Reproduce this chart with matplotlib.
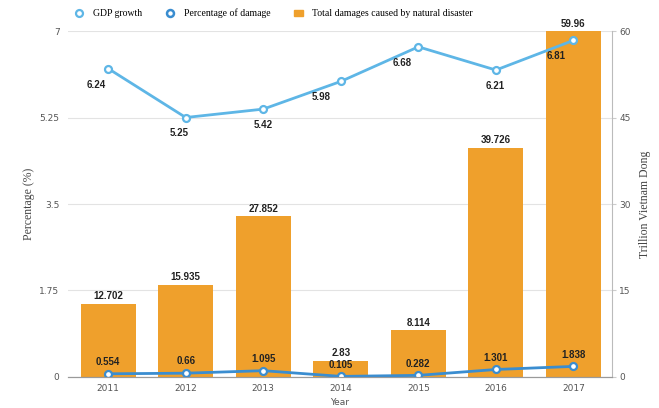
import numpy as np
import matplotlib.pyplot as plt
from matplotlib.lines import Line2D
from matplotlib.patches import Patch

years = ['2011', '2012', '2013', '2014', '2015', '2016', '2017']
gdp_growth = [6.24, 5.25, 5.42, 5.98, 6.68, 6.21, 6.81]
damage_pct = [0.554, 0.66, 1.095, 0.105, 0.282, 1.301, 1.838]
total_damage = [12.702, 15.935, 27.852, 2.83, 8.114, 39.726, 59.96]

orange = '#EFA02C'
light_blue = '#5EB6E6'
dark_blue = '#3A8DD0'
grey = '#9a9a9a'

x = np.arange(len(years))

fig = plt.figure(figsize=(6.59, 4.08), dpi=100)
ax = fig.add_axes([0.103, 0.076, 0.826, 0.848])
ax2 = ax.twinx()

# bars + damage line on the right axis (trillion VND scale)
ax2.set_zorder(1)
ax.set_zorder(2)
ax.patch.set_visible(False)

ax2.bar(x, total_damage, width=0.71, color=orange, zorder=2)
ax2.plot(x, damage_pct, color=dark_blue, lw=2, marker='o', ms=5,
         mfc='white', mec=dark_blue, mew=1.6, zorder=3)
ax2.set_ylim(0, 60)
ax2.set_yticks([0, 15, 30, 45, 60])
ax2.yaxis.grid(True, color='#e3e3e3', lw=0.8)
ax2.set_axisbelow(True)

# gdp line on the left axis
ax.plot(x, gdp_growth, color=light_blue, lw=2, marker='o', ms=5,
        mfc='white', mec=light_blue, mew=1.6, zorder=3)
ax.set_ylim(0, 7)
ax.set_yticks([0, 1.75, 3.5, 5.25, 7])
ax.set_yticklabels(['0', '1.75', '3.5', '5.25', '7'])
ax.set_xlim(-0.52, 6.5)
ax.set_xticks(x)
ax.set_xticklabels(years)

for a in (ax, ax2):
    a.spines['top'].set_visible(False)
    a.spines['left'].set_visible(False)
    a.spines['right'].set_visible(False)
    a.spines['bottom'].set_color(grey)
ax2.spines['right'].set_visible(True)
ax2.spines['right'].set_color('#bbbbbb')

ax.tick_params(axis='y', length=0, labelsize=6.5, labelcolor='#555555', pad=6)
ax.tick_params(axis='x', length=0, labelsize=6.5, labelcolor='#555555', pad=5)
ax2.tick_params(axis='y', length=3, color='#cccccc', labelsize=6.5,
                labelcolor='#555555', pad=2)

ax.set_xlabel('Year', fontsize=6.5, color='#555555', labelpad=4)
ax.set_ylabel('Percentage (%)', family='Liberation Serif', fontsize=8.5,
              color='#444444', labelpad=3)
ax2.set_ylabel('Trillion Vietnam Dong', family='Liberation Serif', fontsize=8.5,
               color='#444444', labelpad=6)

lab = dict(fontsize=7, fontweight='bold', color='#222222',
           family='Liberation Sans', ha='center', va='center')

# data labels
gdp_dx = [-12, -7, 0, -20, -16, -1, -17]
for i, v in enumerate(gdp_growth):
    ax.annotate(f'{v:g}', (x[i], v), xytext=(gdp_dx[i] * 0.72, -11.5),
                textcoords='offset points', zorder=5, **lab)
for i, v in enumerate(total_damage):
    ax2.annotate(f'{v:g}', (x[i], v), xytext=(0, 5.5),
                 textcoords='offset points', zorder=5, **lab)
for i, v in enumerate(damage_pct):
    ax2.annotate(f'{v:g}', (x[i], v), xytext=(0, 8.5),
                 textcoords='offset points', zorder=5, **lab)

handles = [
    Line2D([], [], ls='none', marker='o', ms=5, mfc='white', mec=light_blue, mew=1.6),
    Line2D([], [], ls='none', marker='o', ms=5, mfc='white', mec=dark_blue, mew=1.8),
    Patch(color=orange),
]
fig.legend(handles, ['GDP growth', 'Percentage of damage',
                     'Total damages caused by natural disaster'],
           loc='upper center', bbox_to_anchor=(0.415, 1.0), ncol=3,
           frameon=False, prop={'family': 'Liberation Serif', 'size': 7},
           handlelength=1.0, handletextpad=0.9, columnspacing=2.4)

fig.savefig('out.png', dpi=100)
